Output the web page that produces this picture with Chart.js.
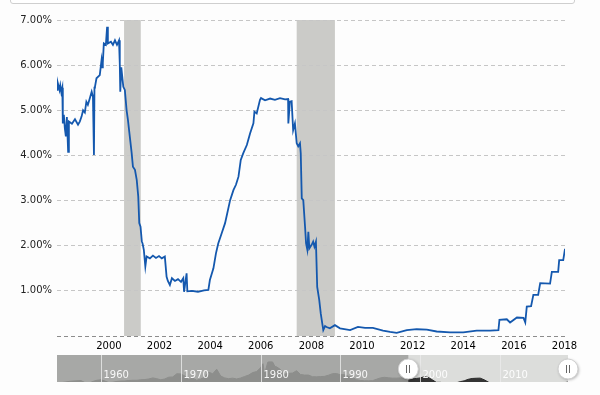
<!DOCTYPE html>
<html>
<head>
<meta charset="utf-8">
<script src="https://cdn.jsdelivr.net/npm/chart.js@4"></script>
<style>
  html, body { margin: 0; padding: 0; background: #fdfdfd; }
  #wrap { position: relative; width: 600px; height: 395px; overflow: hidden; }
  #topbox { position: absolute; left: 10px; top: -10px; width: 563px; height: 12px;
            border: 1px solid #cfcfcf; border-radius: 3px; background: #fff; }
  #plot_main { position: absolute; left: 0; top: 0; }
  #plot_nav { position: absolute; left: 40px; top: 345px; }
</style>
</head>
<body>
<div id="wrap">
  <div id="topbox"></div>
  <canvas id="plot_main" width="600" height="395"></canvas>
  <canvas id="plot_nav" width="545" height="45"></canvas>
</div>
<script>
// fed funds rate (year on the chart axis, percent)
const fedDates = [
  1997.95, 1997.97, 1998.05, 1998.08, 1998.12, 1998.16, 1998.18, 1998.22, 1998.26, 1998.30,
  1998.34, 1998.39, 1998.42, 1998.54, 1998.66, 1998.78, 1998.85, 1998.92, 1998.98, 1999.05,
  1999.11, 1999.17, 1999.25, 1999.32, 1999.37, 1999.41, 1999.43, 1999.45, 1999.51, 1999.64,
  1999.71, 1999.74, 1999.76, 1999.80, 1999.88, 1999.93, 1999.96, 2000.08, 2000.16, 2000.24,
  2000.32, 2000.40, 2000.43, 2000.45, 2000.49, 2000.57, 2000.63, 2000.70, 2000.75, 2000.81,
  2000.85, 2000.90, 2000.95, 2001.03, 2001.10, 2001.16, 2001.20, 2001.25, 2001.30, 2001.33,
  2001.38, 2001.44, 2001.49, 2001.62, 2001.74, 2001.86, 2001.98, 2002.09, 2002.21, 2002.28,
  2002.33, 2002.41, 2002.49, 2002.61, 2002.73, 2002.85, 2002.94, 2002.97, 2003.07, 2003.10,
  2003.28, 2003.52, 2003.76, 2003.93, 2003.99, 2004.13, 2004.23, 2004.32, 2004.46, 2004.59,
  2004.79, 2004.92, 2005.02, 2005.12, 2005.21, 2005.31, 2005.45, 2005.58, 2005.71, 2005.75,
  2005.84, 2005.97, 2006.01, 2006.17, 2006.37, 2006.56, 2006.76, 2006.96, 2007.08, 2007.09,
  2007.15, 2007.22, 2007.28, 2007.35, 2007.42, 2007.48, 2007.55, 2007.58, 2007.62, 2007.68,
  2007.75, 2007.79, 2007.84, 2007.88, 2007.92, 2008.01, 2008.07, 2008.12, 2008.18, 2008.23,
  2008.31, 2008.37, 2008.41, 2008.47, 2008.54, 2008.60, 2008.73, 2008.93, 2009.13, 2009.53,
  2009.84, 2010.12, 2010.43, 2010.83, 2011.11, 2011.37, 2011.77, 2012.16, 2012.56, 2012.95,
  2013.48, 2014.00, 2014.53, 2015.06, 2015.39, 2015.43, 2015.72, 2015.85, 2016.12, 2016.38,
  2016.45, 2016.51, 2016.68, 2016.77, 2016.96, 2017.04, 2017.43, 2017.50, 2017.75, 2017.79,
  2017.95, 2018.02
];
const fedRates = [
  5.45, 5.63, 5.45, 5.55, 5.40, 5.50, 4.71, 4.90, 4.60, 4.42,
  4.85, 4.08, 4.75, 4.70, 4.80, 4.68, 4.75, 4.86, 5.00, 4.95,
  5.19, 5.12, 5.27, 5.41, 5.30, 4.01, 5.50, 5.52, 5.71, 5.78,
  6.11, 5.95, 6.05, 6.48, 6.45, 6.85, 6.48, 6.52, 6.45, 6.55,
  6.45, 6.55, 6.04, 5.41, 5.95, 5.52, 5.45, 5.00, 4.80, 4.50,
  4.30, 4.05, 3.75, 3.68, 3.46, 3.09, 2.50, 2.42, 2.10, 2.05,
  1.91, 1.54, 1.76, 1.72, 1.78, 1.73, 1.77, 1.72, 1.76, 1.31,
  1.22, 1.13, 1.28, 1.22, 1.26, 1.20, 1.28, 0.98, 1.39, 0.99,
  1.00, 0.98, 1.01, 1.02, 1.24, 1.50, 1.83, 2.05, 2.28, 2.50,
  3.01, 3.23, 3.35, 3.53, 3.90, 4.05, 4.23, 4.49, 4.71, 4.97,
  4.93, 5.23, 5.27, 5.22, 5.26, 5.23, 5.27, 5.24, 5.25, 4.71,
  5.19, 5.20, 4.56, 4.71, 4.27, 4.20, 4.27, 4.05, 3.05, 3.01,
  2.42, 2.05, 1.91, 2.31, 1.94, 2.02, 2.09, 1.98, 2.09, 1.09,
  0.80, 0.50, 0.35, 0.13, 0.22, 0.20, 0.17, 0.24, 0.17, 0.13,
  0.20, 0.18, 0.18, 0.12, 0.09, 0.07, 0.13, 0.15, 0.14, 0.10,
  0.08, 0.08, 0.12, 0.12, 0.13, 0.36, 0.37, 0.30, 0.41, 0.40,
  0.30, 0.65, 0.66, 0.91, 0.91, 1.17, 1.16, 1.42, 1.42, 1.68,
  1.68, 1.93
];

// shaded recessions
const recessionStart = [2000.60, 2007.42];
const recessionEnd   = [2001.26, 2008.93];

const xTicks = [2000, 2002, 2004, 2006, 2008, 2010, 2012, 2014, 2016, 2018];
const yTicks = [0, 1, 2, 3, 4, 5, 6, 7];

// navigator: long history, rough
const navYears = [
  1954.5, 1955, 1955.5, 1956, 1956.5, 1957, 1957.5, 1958, 1958.5, 1959, 1959.5,
  1960, 1960.5, 1961, 1961.5, 1962, 1962.5, 1963, 1963.5, 1964, 1964.5,
  1965, 1965.5, 1966, 1966.5, 1967, 1967.5, 1968, 1968.5, 1969, 1969.5,
  1970, 1970.5, 1971, 1971.5, 1972, 1972.5, 1973, 1973.5, 1974, 1974.5,
  1975, 1975.5, 1976, 1976.5, 1977, 1977.5, 1978, 1978.5, 1979, 1979.5,
  1980, 1980.3, 1980.5, 1980.9, 1981, 1981.5, 1981.8, 1982, 1982.5, 1982.9,
  1983, 1983.5, 1984, 1984.5, 1985, 1985.5, 1986, 1986.5, 1987, 1987.5,
  1988, 1988.5, 1989, 1989.5, 1990, 1990.5, 1991, 1991.5, 1992, 1992.5,
  1993, 1993.5, 1994, 1994.5, 1995, 1995.5, 1996, 1996.5, 1997, 1997.5,
  1998, 1998.5, 1999, 1999.5, 2000, 2000.5, 2001, 2001.5, 2002, 2002.5,
  2003, 2003.5, 2004, 2004.5, 2005, 2005.5, 2006, 2006.5, 2007, 2007.5,
  2008, 2008.5, 2009, 2010, 2011, 2012, 2013, 2014, 2015, 2015.5,
  2016, 2016.5, 2017, 2017.5, 2018, 2018.5
];
const navRates = [
  1.0, 1.4, 1.9, 2.5, 2.8, 3.0, 3.2, 1.5, 1.0, 2.5, 3.5,
  3.9, 2.8, 1.5, 1.8, 2.5, 2.8, 2.9, 3.3, 3.5, 3.5,
  3.9, 4.1, 4.6, 5.5, 4.8, 3.9, 4.6, 6.1, 6.3, 9.0,
  8.9, 7.2, 4.1, 5.3, 3.5, 4.6, 6.0, 10.4, 9.0, 12.9,
  7.1, 5.5, 4.8, 5.3, 4.6, 5.4, 6.7, 7.9, 10.0, 10.9,
  14.1, 17.6, 9.0, 18.9, 19.1, 19.1, 15.1, 14.9, 12.6, 8.9,
  8.7, 9.4, 9.6, 11.6, 8.4, 7.9, 7.9, 6.5, 6.4, 6.6,
  6.8, 7.8, 9.1, 9.2, 8.2, 8.2, 6.9, 5.9, 4.0, 3.3,
  3.0, 3.0, 3.1, 4.3, 5.5, 6.0, 5.6, 5.3, 5.3, 5.5,
  5.5, 5.5, 4.6, 5.0, 5.5, 6.5, 5.9, 3.9, 1.7, 1.7,
  1.2, 1.0, 1.0, 1.3, 2.3, 3.0, 4.3, 5.0, 5.2, 5.3,
  3.9, 2.0, 0.2, 0.2, 0.1, 0.1, 0.1, 0.1, 0.1, 0.2,
  0.4, 0.4, 0.9, 1.2, 1.4, 1.9
];
const navTicks = [1960, 1970, 1980, 1990, 2000, 2010];
const navSelection = [1998.5, 2018.5];

const plot_main = document.getElementById('plot_main');
const plot_nav = document.getElementById('plot_nav');

const recessionPlugin = {
  id: 'recessions',
  beforeDraw(chart) {
    const ctx = chart.ctx, xs = chart.scales.x, area = chart.chartArea;
    ctx.save();
    ctx.fillStyle = '#cbcbc8';
    for (let i = 0; i < recessionStart.length; i++) {
      const x0 = xs.getPixelForValue(recessionStart[i]);
      const x1 = xs.getPixelForValue(recessionEnd[i]);
      ctx.fillRect(x0, area.top, x1 - x0, area.bottom - area.top);
    }
    ctx.restore();
  }
};

const dados_fed = {
  type: 'line',
  data: {
    datasets: [{
      data: fedDates.map((d, i) => ({ x: d, y: fedRates[i] })),
      borderColor: '#1458ae',
      borderWidth: 1.8,
      pointRadius: 0,
      tension: 0,
      fill: false
    }]
  },
  options: {
    responsive: false,
    animation: false,
    devicePixelRatio: 1,
    layout: { padding: { left: 0, right: 35, top: 20, bottom: 39 } },
    plugins: { legend: { display: false }, tooltip: { enabled: false } },
    scales: {
      x: {
        type: 'linear',
        min: 1997.95,
        max: 2018.02,
        afterBuildTicks: s => { s.ticks = xTicks.map(v => ({ value: v })); },
        afterFit: s => { s.height = 20; },
        grid: { display: false, drawTicks: false },
        border: { display: false },
        ticks: {
          padding: 4,
          autoSkip: false,
          maxRotation: 0,
          color: '#000',
          font: { family: 'DejaVu Sans', size: 10 },
          callback: v => String(v)
        }
      },
      y: {
        min: 0,
        max: 7,
        afterBuildTicks: s => { s.ticks = yTicks.map(v => ({ value: v })); },
        afterFit: s => { s.width = 57; },
        grid: {
          drawTicks: false,
          color: c => (c.tick && c.tick.value === 0) ? '#8c8c8c' : '#c6c6c6'
        },
        border: { display: false, dash: [4, 3] },
        ticks: {
          padding: 5,
          color: '#222',
          font: { family: 'DejaVu Sans', size: 10 },
          callback: v => v === 0 ? '' : v.toFixed(2) + '%'
        }
      }
    }
  },
  plugins: [recessionPlugin]
};

const navPlugin = {
  id: 'navigator',
  beforeDraw(chart) {
    const ctx = chart.ctx, a = chart.chartArea;
    ctx.save();
    ctx.fillStyle = '#dcdddb';
    ctx.fillRect(a.left, a.top, a.right - a.left, a.bottom - a.top);
    ctx.restore();
  },
  afterDatasetsDraw(chart) {
    const ctx = chart.ctx, a = chart.chartArea, xs = chart.scales.x;
    const s0 = xs.getPixelForValue(navSelection[0]);
    const s1 = xs.getPixelForValue(navSelection[1]);
    ctx.save();
    // unselected part
    ctx.fillStyle = 'rgba(158,159,156,0.85)';
    ctx.fillRect(a.left, a.top, s0 - a.left, a.bottom - a.top);
    // decade lines and labels
    ctx.strokeStyle = 'rgba(235,235,235,0.8)';
    ctx.lineWidth = 1;
    ctx.fillStyle = 'rgba(255,255,255,0.92)';
    ctx.font = '10px "DejaVu Sans"';
    ctx.textBaseline = 'alphabetic';
    navTicks.forEach(t => {
      const x = Math.round(xs.getPixelForValue(t)) + 0.5;
      ctx.beginPath();
      ctx.moveTo(x, a.top);
      ctx.lineTo(x, a.bottom);
      ctx.stroke();
      ctx.fillText(String(t), x + 2, a.bottom - 4);
    });
    // handles
    [s0, s1].forEach(x => {
      const cy = (a.top + a.bottom) / 2 + 0.5;
      ctx.shadowColor = 'rgba(0,0,0,0.3)';
      ctx.shadowBlur = 3;
      ctx.shadowOffsetX = 1;
      ctx.shadowOffsetY = 1;
      ctx.beginPath();
      ctx.arc(x, cy, 10, 0, Math.PI * 2);
      ctx.fillStyle = '#fff';
      ctx.fill();
      ctx.shadowColor = 'transparent';
      ctx.strokeStyle = '#d0d0d0';
      ctx.stroke();
      ctx.strokeStyle = '#666';
      ctx.beginPath();
      ctx.moveTo(Math.round(x) - 1.5, cy - 4);
      ctx.lineTo(Math.round(x) - 1.5, cy + 4);
      ctx.moveTo(Math.round(x) + 1.5, cy - 4);
      ctx.lineTo(Math.round(x) + 1.5, cy + 4);
      ctx.stroke();
    });
    ctx.restore();
  }
};

const dados_nav = {
  type: 'line',
  data: {
    datasets: [{
      data: navYears.map((d, i) => ({ x: d, y: navRates[i] })),
      borderColor: '#2a2a2a',
      borderWidth: 1,
      backgroundColor: '#343434',
      pointRadius: 0,
      tension: 0,
      fill: 'start'
    }]
  },
  options: {
    responsive: false,
    animation: false,
    devicePixelRatio: 1,
    layout: { padding: { left: 17, right: 17, top: 10, bottom: 8 } },
    plugins: { legend: { display: false }, tooltip: { enabled: false } },
    scales: {
      x: { type: 'linear', min: 1954.5, max: 2018.5, display: false },
      y: { min: 2, max: 25, display: false }
    }
  },
  plugins: [navPlugin]
};

const grafico_fed = new Chart(plot_main, dados_fed);
const grafico_nav = new Chart(plot_nav, dados_nav);
</script>
</body>
</html>
